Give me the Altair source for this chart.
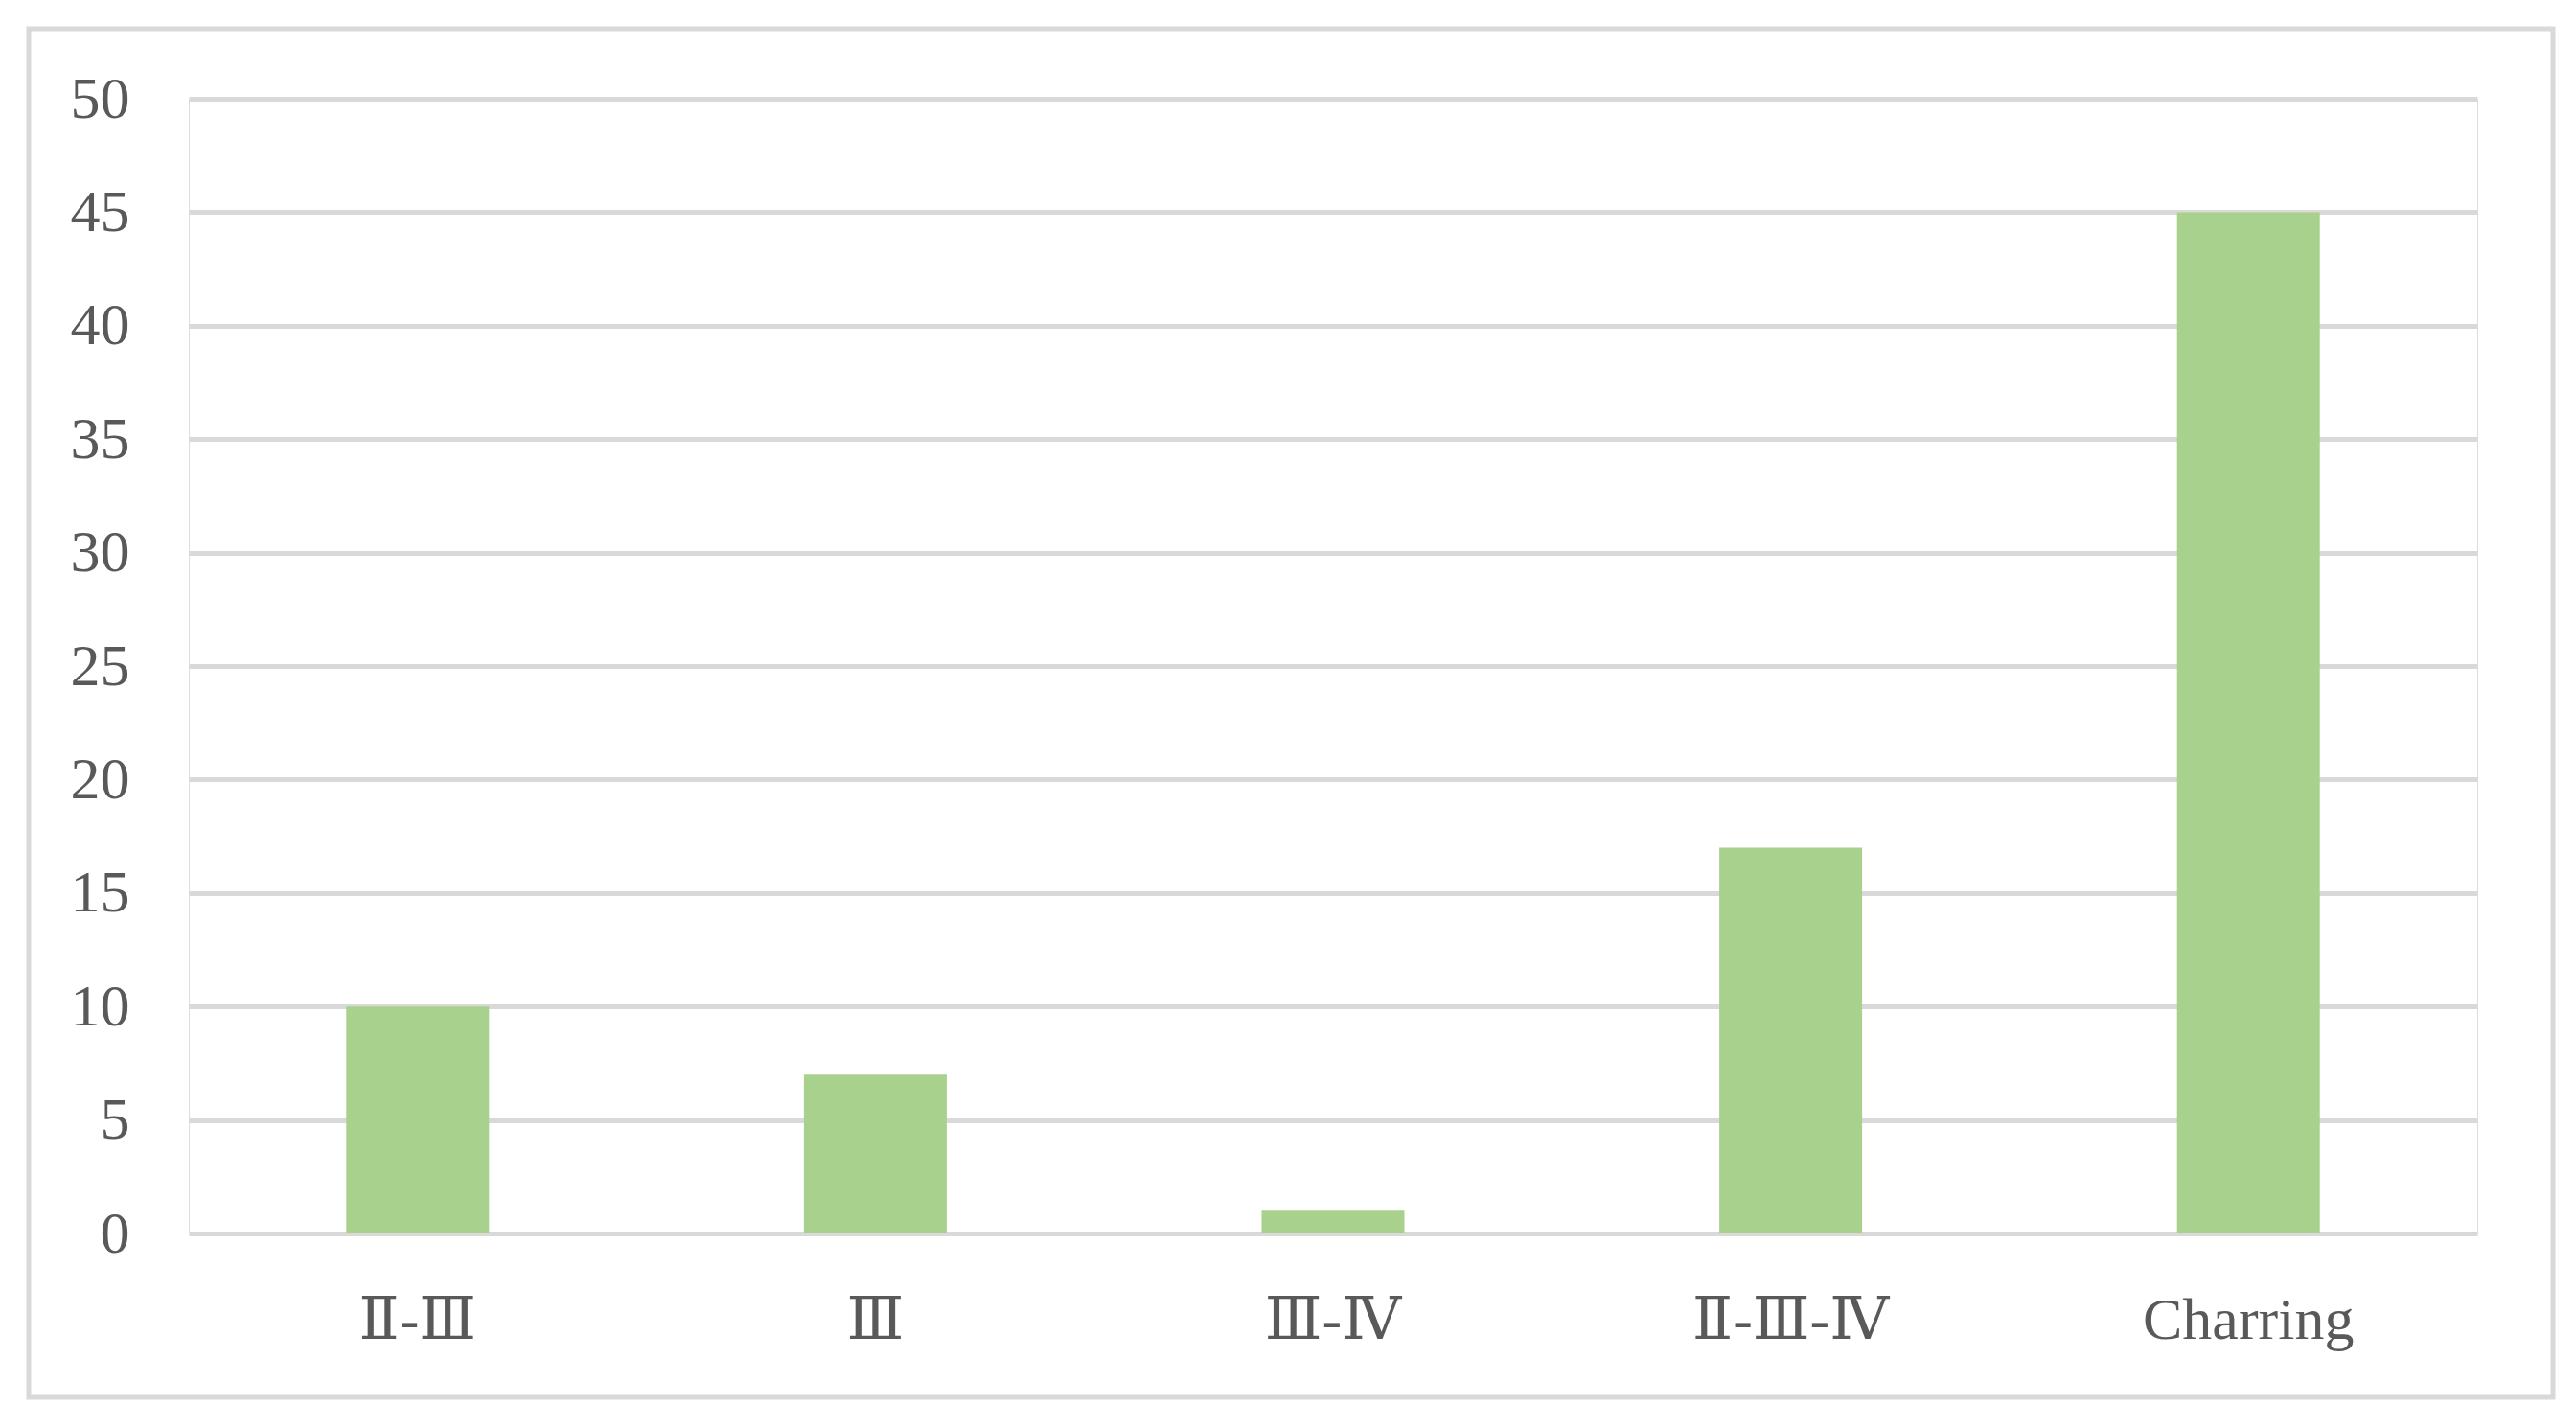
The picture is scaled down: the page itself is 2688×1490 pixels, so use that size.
import altair as alt
import pandas as pd

categories = ["Ⅱ-Ⅲ", "Ⅲ", "Ⅲ-Ⅳ", "Ⅱ-Ⅲ-Ⅳ", "Charring"]
values = [10, 7, 1, 17, 45]
y_ticks = [0, 5, 10, 15, 20, 25, 30, 35, 40, 45, 50]

df = pd.DataFrame({"category": categories, "value": values})

FONT = "Liberation Serif, DejaVu Serif, serif"
TEXT = "#595959"
GRID = "#d9d9d9"

W, H = 2388, 1184

bars = alt.Chart(df).mark_bar(color="#a9d18e").encode(
    x=alt.X(
        "category:N",
        sort=categories,
        scale=alt.Scale(paddingInner=0.688, paddingOuter=0.344),
        axis=alt.Axis(
            title=None, labelAngle=0, domain=False, ticks=False, tickSize=0,
            grid=False, labelPadding=90, labelFontSize=62, labelFont=FONT,
            labelColor=TEXT, labelBaseline="middle", labelLimit=0,
        ),
    ),
    y=alt.Y(
        "value:Q",
        scale=alt.Scale(domain=[0, 50], nice=False),
        axis=alt.Axis(
            title=None, values=y_ticks, domain=False, ticks=False, tickSize=0,
            grid=True, gridColor=GRID, gridWidth=5, labelPadding=62,
            labelFontSize=62, labelFont=FONT, labelColor=TEXT,
        ),
    ),
)

frame = alt.Chart(pd.DataFrame({"a": [0]})).mark_rect(
    fill="white", fillOpacity=0, stroke=GRID, strokeWidth=5
).encode(
    x=alt.value(-167), x2=alt.value(2467),
    y=alt.value(-73), y2=alt.value(1355),
)

chart = alt.layer(frame, bars).properties(
    width=W, height=H,
    autosize=alt.AutoSizeParams(type="none"),
    padding={"left": 189, "top": 95, "right": 86, "bottom": 180},
).configure_view(stroke="transparent", strokeWidth=0).configure(background="white")

chart.save("out.html", embed_options={"renderer": "svg", "actions": False})
